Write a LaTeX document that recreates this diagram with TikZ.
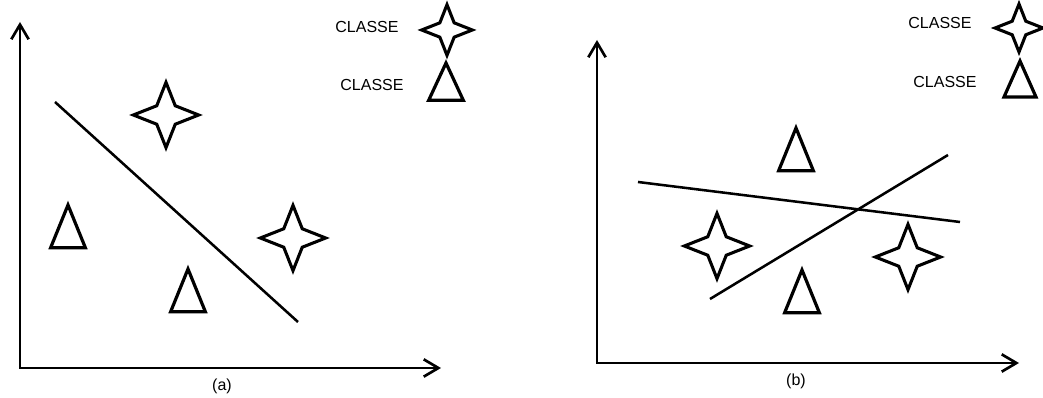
\documentclass[tikz,border=0pt]{standalone}
\usepackage{fontspec}
\setmainfont{Liberation Sans}
\usetikzlibrary{arrows.meta,positioning,shapes.geometric}
\tikzset{
  axis/.style={line width=2pt,{Straight Barb[length=11pt,width=13pt]}-{Straight Barb[length=11pt,width=13pt]}},
  sep/.style={line width=1.9pt},
  starm/.style={star,star points=4,star point ratio=2.5,draw,line width=2.3pt,inner sep=0pt,outer sep=0pt,minimum size=49pt},
  trim/.style={isosceles triangle,isosceles triangle stretches,shape border rotate=90,draw,line width=2.4pt,inner sep=0pt,outer sep=0pt,minimum width=26pt,minimum height=32pt,anchor=apex},
  lbl/.style={font=\fontsize{12}{14}\selectfont},
}
\begin{document}
\begin{tikzpicture}[x=0.75pt,y=-0.75pt]
  \useasboundingbox (0,0) rectangle (1043,398);
  % panel (a)
  \coordinate (ao) at (20,368);
  \coordinate (ay) at (20,22);
  \coordinate (ax) at (441,368);
  \draw[axis] (ay) -- (ao) -- (ax);
  \coordinate (la1) at (55,102);
  \coordinate (la2) at (298,322);
  \draw[sep] (la1) -- (la2);
  \node[starm] (sa1) at (166,115) {};
  \node[starm] (sa2) at (293,238) {};
  \node[trim] (ta1) at (68,205) {};
  \node[trim] (ta2) at (188,269) {};
  \node[starm,minimum size=38pt] (ka1) at (447,30) {};
  \node[trim,minimum width=26pt,minimum height=28pt] (kt1) at (446,63) {};
  \node[lbl] (ca1) at (367,27) {CLASSE};
  \node[lbl] (ca2) at (372,85) {CLASSE};
  \node[lbl] (na) at (222,386) {(a)};
  % panel (b)
  \coordinate (bo) at (597,363);
  \coordinate (by) at (597,40);
  \coordinate (bx) at (1019,363);
  \draw[axis] (by) -- (bo) -- (bx);
  \coordinate (lb1) at (638,182);
  \coordinate (lb2) at (960,222);
  \coordinate (lb3) at (710,299);
  \coordinate (lb4) at (948,155);
  \draw[sep] (lb1) -- (lb2);
  \draw[sep] (lb3) -- (lb4);
  \node[trim] (tb1) at (796,128) {};
  \node[trim] (tb2) at (802,270) {};
  \node[starm] (sb1) at (717,246) {};
  \node[starm] (sb2) at (908,257) {};
  \node[starm,minimum size=36pt] (kb1) at (1019,28) {};
  \node[trim,minimum width=24pt,minimum height=27pt] (kt2) at (1020,61) {};
  \node[lbl] (cb1) at (940,23) {CLASSE};
  \node[lbl] (cb2) at (945,82) {CLASSE};
  \node[lbl] (nb) at (796,381) {(b)};
\end{tikzpicture}
\end{document}
